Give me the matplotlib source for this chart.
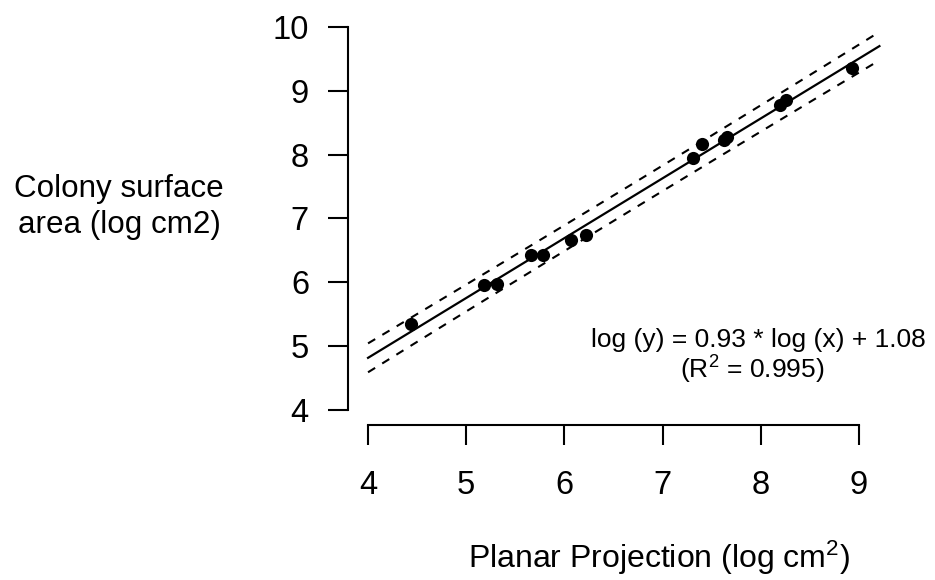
import numpy as np
import matplotlib
matplotlib.use("Agg")
from matplotlib import pyplot as plt

# points (log planar projection, log surface area)
planar = [4.44, 5.18, 5.31, 5.66, 5.78, 6.07, 6.22, 7.31, 7.40, 7.63, 7.66, 8.20, 8.26, 8.93]
surface = [5.34, 5.96, 5.97, 6.42, 6.42, 6.67, 6.74, 7.94, 8.16, 8.23, 8.27, 8.77, 8.86, 9.35]
x_ticks = [4, 5, 6, 7, 8, 9]
y_ticks = [4, 5, 6, 7, 8, 9, 10]
fit_range = [4.0, 9.21]
t_975 = 2.179  # t quantile, df = 12

plt.rcParams["font.family"] = ["Liberation Sans", "DejaVu Sans"]
plt.rcParams["mathtext.fontset"] = "custom"
plt.rcParams["mathtext.rm"] = "Liberation Sans"

x = np.array(planar)
y = np.array(surface)
n = len(x)
slope, intercept = np.polyfit(x, y, 1)
resid = y - (slope * x + intercept)
s = np.sqrt(np.sum(resid ** 2) / (n - 2))
xs = np.linspace(fit_range[0], fit_range[1], 100)
ys = slope * xs + intercept
half = t_975 * s * np.sqrt(1 + 1 / n + (xs - x.mean()) ** 2 / np.sum((x - x.mean()) ** 2))

fig = plt.figure(figsize=(9.35, 5.8), dpi=100)
ax = fig.add_axes([0.3718, 0.2664, 0.5887, 0.7091])

ax.plot(xs, ys, color="black", lw=1.6)
ax.plot(xs, ys + half, color="black", lw=1.5, dashes=(4, 4))
ax.plot(xs, ys - half, color="black", lw=1.5, dashes=(4, 4))
ax.scatter(x, y, s=90, color="black", zorder=3, linewidths=0)

ax.set_xlim(3.792, 9.4)
ax.set_ylim(3.757, 10.2)

for side in ["top", "right"]:
    ax.spines[side].set_visible(False)
ax.spines["left"].set_bounds(4, 10)
ax.spines["bottom"].set_bounds(4, 9)
ax.spines["left"].set_linewidth(1.5)
ax.spines["bottom"].set_linewidth(1.5)

ax.set_xticks(x_ticks)
ax.set_yticks(y_ticks)
ax.tick_params(axis="x", length=14.4, width=1.5, pad=18, labelsize=23.5)
ax.tick_params(axis="y", length=14.4, width=1.5, pad=13.5, labelsize=23.5)

fig.text(659 / 935, 1 - 558 / 580, r"Planar Projection (log cm$\mathregular{^2}$)",
         ha="center", va="center", fontsize=23)
fig.text(119 / 935, 1 - 207 / 580, "Colony surface\narea (log cm2)",
         ha="center", va="center", fontsize=22.6, linespacing=1.3)

fig.text(758 / 935, 1 - 340 / 580, "log (y) = 0.93 * log (x) + 1.08",
         ha="center", va="center", fontsize=19)
fig.text(752 / 935, 1 - 370 / 580, r"(R$\mathregular{^2}$ = 0.995)",
         ha="center", va="center", fontsize=19)

fig.savefig("out.png", dpi=100)
